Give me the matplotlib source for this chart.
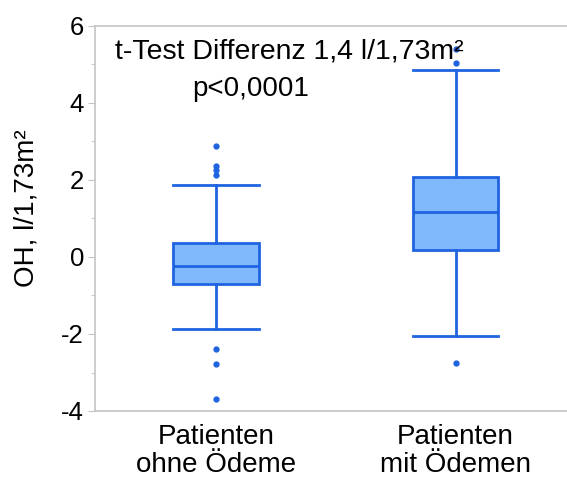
import matplotlib
matplotlib.use("Agg")
from matplotlib import pyplot as plt
from matplotlib.ticker import MultipleLocator

plt.rcParams['font.family'] = ['Liberation Sans', 'DejaVu Sans']
plt.rcParams['axes.unicode_minus'] = False

groups = ["Patienten\nohne Ödeme", "Patienten\nmit Ödemen"]
medians = [-0.23, 1.16]
q1s = [-0.70, 0.18]
q3s = [0.37, 2.07]
whislo = [-1.88, -2.06]
whishi = [1.86, 4.85]
fliers = [[2.89, 2.36, 2.26, 2.13, -2.40, -2.79, -3.68],
          [5.40, 5.05, -2.76]]

edge = '#1f63e0'
fill = '#80b8fc'
grey = '#c4c4c4'
W, H = 567, 482

stats = []
for i in range(len(groups)):
    stats.append(dict(med=medians[i], q1=q1s[i], q3=q3s[i],
                      whislo=whislo[i], whishi=whishi[i],
                      fliers=fliers[i], label=groups[i]))

fig = plt.figure(figsize=(W / 100, H / 100), dpi=100)
ax = fig.add_axes([95 / W, 1 - 411 / H, 1 - 95 / W, (411 - 26) / H])

ax.bxp(stats, positions=[1, 2], widths=0.357, patch_artist=True,
       boxprops=dict(facecolor=fill, edgecolor=edge, linewidth=2),
       medianprops=dict(color=edge, linewidth=2),
       whiskerprops=dict(color=edge, linewidth=2),
       capprops=dict(color=edge, linewidth=2),
       capwidths=0.357,
       flierprops=dict(marker='o', markersize=3.5, markerfacecolor=edge,
                       markeredgecolor=edge, linestyle='none'))

ax.set_xlim(0.496, 2.465)
ax.set_ylim(-4, 6)
ax.yaxis.set_major_locator(MultipleLocator(2))
ax.yaxis.set_minor_locator(MultipleLocator(1))

ax.spines['right'].set_visible(False)
for s in ['left', 'top', 'bottom']:
    ax.spines[s].set_color(grey)
    ax.spines[s].set_linewidth(1.2)

ax.tick_params(axis='y', which='major', length=5, color=grey, labelsize=18.5, pad=3)
ax.tick_params(axis='y', which='minor', length=3, color=grey)
ax.tick_params(axis='x', length=0, labelsize=20, pad=9)
for lab in ax.get_xticklabels():
    lab.set_linespacing(1.15)

fig.text(27 / W, 1 - 208 / H, "OH, l/1,73m²", fontsize=20, rotation=90,
         ha='center', va='center')
fig.text(289 / W, 1 - 58 / H, "t-Test Differenz 1,4 l/1,73m²", fontsize=20.5,
         ha='center', va='baseline')
fig.text(251 / W, 1 - 96 / H, "p<0,0001", fontsize=20, ha='center', va='baseline')

plt.savefig("out.png", dpi=100)
